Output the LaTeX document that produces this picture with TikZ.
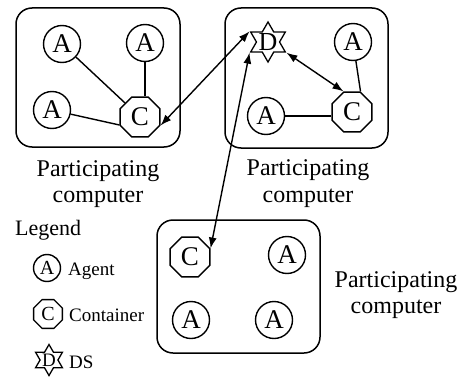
\documentclass[tikz,border=0pt]{standalone}
\usepackage{fontspec}
\setmainfont{Liberation Serif}
\usetikzlibrary{shapes.geometric,arrows.meta}
\begin{document}
\begin{tikzpicture}[x=1pt,y=-1pt,
  pbox/.style={draw,line width=1.5pt,rounded corners=16pt,inner sep=0pt},
  agent/.style={draw,circle,line width=1.4pt,minimum size=37pt,inner sep=0pt,font=\fontsize{27}{27}\selectfont},
  cont/.style={draw,regular polygon,regular polygon sides=8,line width=1.4pt,minimum size=43pt,inner sep=0pt,font=\fontsize{27}{27}\selectfont},
  dsstar/.style={draw,star,star points=6,star point ratio=1.732,line width=1.3pt,minimum size=40pt,inner sep=0pt},
  lagent/.style={agent,minimum size=27pt,font=\fontsize{20}{20}\selectfont},
  lcont/.style={cont,minimum size=31pt,font=\fontsize{20}{20}\selectfont},
  lstar/.style={dsstar,minimum size=31pt},
  link/.style={line width=1.4pt},
  msg/.style={line width=1.4pt,{Latex[length=11pt,width=8pt]}-{Latex[length=11pt,width=8pt]}},
  lbl/.style={font=\fontsize{24}{28}\selectfont,anchor=base,inner sep=0pt},
  ltext/.style={font=\fontsize{19}{20}\selectfont,anchor=base west,inner sep=0pt},
  dtext/.style={font=\fontsize{26}{26}\selectfont,inner sep=0pt}
]
\useasboundingbox (0,0) rectangle (465,377);

% boxes
\node[pbox,minimum width=164pt,minimum height=139pt] (b1) at (98,77.5) {};
\node[pbox,minimum width=163pt,minimum height=140pt] (b2) at (306.5,78) {};
\node[pbox,minimum width=163pt,minimum height=133pt] (b3) at (238.5,286.5) {};

% box 1
\node[agent] (a11) at (62,44) {A};
\node[agent] (a12) at (145,43) {A};
\node[agent] (a13) at (52,110) {A};
\node[cont] (c1) at (140,117) {C};

% box 2
\node[dsstar] (d) at (268,42) {};
\node[dtext] (dl) at (d) {D};
\node[agent] (a21) at (353,42) {A};
\node[agent] (a22) at (266,116) {A};
\node[cont] (c2) at (352,112) {C};

% box 3
\node[cont] (c3) at (190,257) {C};
\node[agent] (a31) at (287,255) {A};
\node[agent] (a32) at (191,320) {A};
\node[agent] (a33) at (274,320) {A};

% links
\draw[link] (a11) -- (c1);
\draw[link] (a12) -- (a12 |- c1.north);
\draw[link] (a13) -- ([yshift=-8pt]c1.west);
\draw[link] (a22) -- (a22 -| c2.west);
\draw[link] (a21) -- (c2.corner 1);

% messages
\draw[msg] (d.outer point 2) -- (c1.corner 7);
\draw[msg] (d.outer point 5) -- (c2.corner 2);
\draw[msg] (d.outer point 3) -- (c3.corner 8);

% labels
\node[lbl] (l1a) at (98,176) {Participating};
\node[lbl] (l1b) at (98,202) {computer};
\node[lbl] (l2a) at (308,175) {Participating};
\node[lbl] (l2b) at (308,202) {computer};
\node[lbl] (l3a) at (396,287) {Participating};
\node[lbl] (l3b) at (396,313) {computer};

% legend
\node[font=\fontsize{22}{22}\selectfont,anchor=base west,inner sep=0pt] (leg) at (15,235) {Legend};
\node[lagent] (la) at (47,268) {A};
\node[ltext] (lat) at (68,275) {Agent};
\node[lcont] (lc) at (48,314) {C};
\node[ltext] (lct) at (69,321) {Container};
\node[lstar] (ls) at (49,360) {};
\node[dtext,font=\fontsize{19}{19}\selectfont] (lsd) at (ls) {D};
\node[ltext] (lst) at (69,368) {DS};
\end{tikzpicture}
\end{document}
